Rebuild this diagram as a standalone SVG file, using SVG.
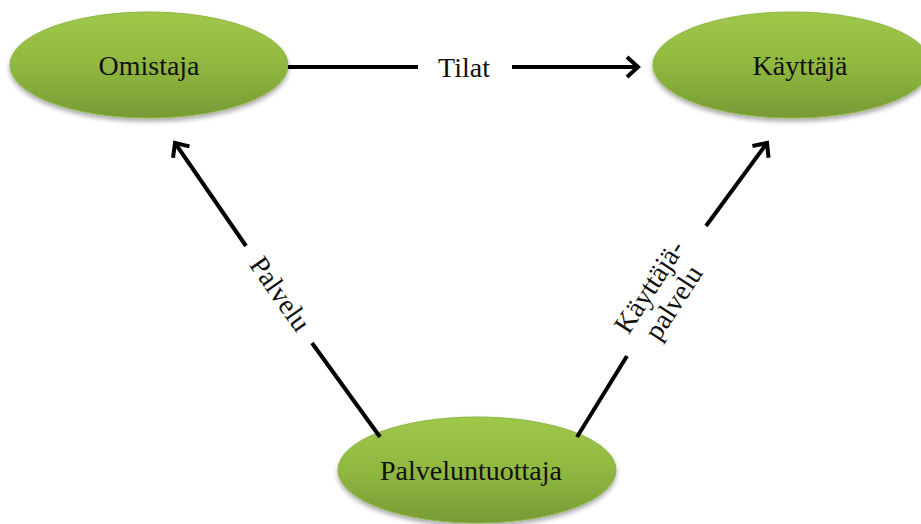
<svg xmlns="http://www.w3.org/2000/svg" width="921" height="524" viewBox="0 0 921 524">
<defs>
<linearGradient id="g" x1="0" y1="0" x2="0" y2="1">
<stop offset="0" stop-color="#9fc84a"/>
<stop offset="0.5" stop-color="#90b840"/>
<stop offset="1" stop-color="#779a35"/>
</linearGradient>
<filter id="sh" x="-10%" y="-10%" width="120%" height="130%">
<feGaussianBlur in="SourceAlpha" stdDeviation="2.5"/>
<feOffset dy="3" result="b"/>
<feComponentTransfer><feFuncA type="linear" slope="0.35"/></feComponentTransfer>
<feMerge><feMergeNode/><feMergeNode in="SourceGraphic"/></feMerge>
</filter>
<marker id="ah" viewBox="0 0 12 12" refX="9" refY="6" markerWidth="12" markerHeight="12" markerUnits="userSpaceOnUse" orient="auto" overflow="visible">
<path d="M-2,-4 L9,6 L-2,16" fill="none" stroke="#000" stroke-width="4"/>
</marker>
<style>
.node ellipse{fill:url(#g);stroke:#8db542;stroke-width:1;filter:url(#sh)}
.lbl{font-family:"Liberation Serif",serif;font-size:28px;fill:#111;text-anchor:middle}
.conn line{stroke:#000;stroke-width:4;fill:none}
</style>
</defs>
<g id="omistaja" class="node">
<ellipse cx="149" cy="65" rx="139" ry="53"/>
<text class="lbl" x="149" y="75">Omistaja</text>
</g>
<g id="kayttaja" class="node">
<ellipse cx="792" cy="65" rx="139" ry="53"/>
<text class="lbl" x="800" y="75">Käyttäjä</text>
</g>
<g id="palveluntuottaja" class="node">
<ellipse cx="477" cy="470" rx="139" ry="53"/>
<text class="lbl" x="471" y="480">Palveluntuottaja</text>
</g>
<g id="connectors" class="conn">
<line x1="288" y1="67" x2="418" y2="67"/>
<line x1="512" y1="67" x2="638" y2="67" marker-end="url(#ah)"/>
<text class="lbl" x="464" y="77">Tilat</text>
<line x1="380" y1="437" x2="312" y2="343"/>
<line x1="246" y1="246" x2="175" y2="143" marker-end="url(#ah)"/>
<text class="lbl" transform="translate(280,294) rotate(55)" y="9">Palvelu</text>
<line x1="577" y1="437" x2="627" y2="356"/>
<line x1="706" y1="226" x2="767" y2="143" marker-end="url(#ah)"/>
<text class="lbl" transform="translate(662,295) rotate(-57)"><tspan x="0" y="-6">Käyttäjä-</tspan><tspan x="0" y="23">palvelu</tspan></text>
</g>
</svg>
